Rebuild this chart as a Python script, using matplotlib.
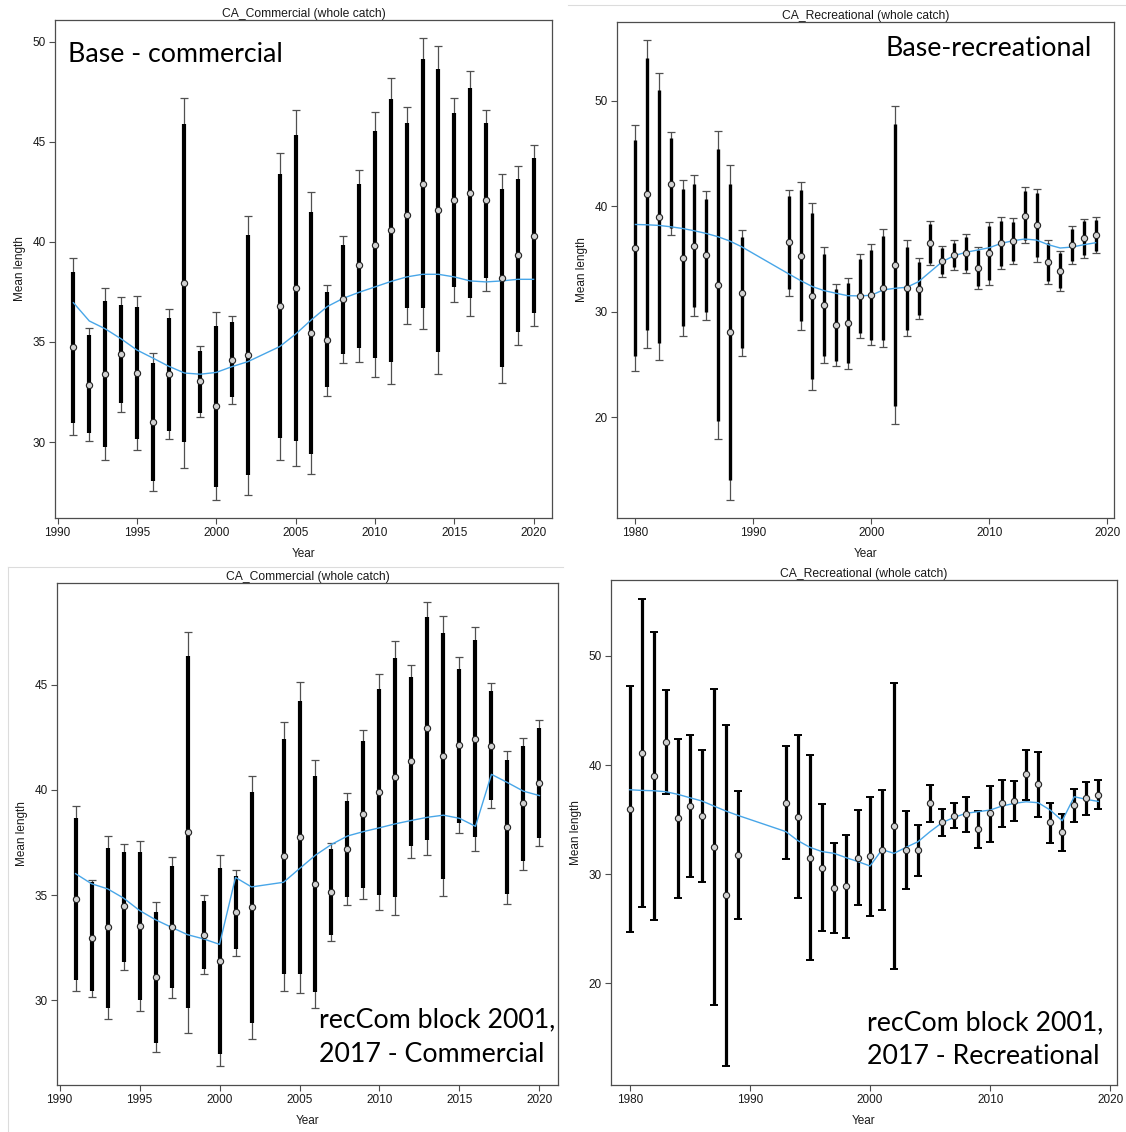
"""
Mean length fits, CA commercial and recreational fleets, base vs recCom block model.
"""

import numpy as np
import matplotlib.pyplot as plt
from matplotlib.lines import Line2D

plt.rcParams["font.family"] = ["Liberation Sans", "DejaVu Sans"]

# ---- Base model, commercial ----
com_years = [1991, 1992, 1993, 1994, 1995, 1996, 1997, 1998, 1999, 2000, 2001, 2002,
             2004, 2005, 2006, 2007, 2008, 2009, 2010, 2011, 2012, 2013, 2014, 2015,
             2016, 2017, 2018, 2019, 2020]
bc_mean = [34.77, 32.86, 33.39, 34.39, 33.46, 31.0, 33.39, 37.93, 33.04, 31.8, 34.11, 34.36,
           36.79, 37.7, 35.46, 35.11, 37.13, 38.82, 39.86, 40.57, 41.32, 42.91, 41.57, 42.09,
           42.43, 42.09, 38.18, 39.32, 40.3]
bc_thick_hi = [38.52, 35.36, 37.04, 36.86, 36.77, 33.93, 36.18, 45.89, 34.55, 35.8, 35.98, 40.36,
               43.38, 45.34, 41.5, 37.48, 39.86, 42.91, 45.54, 47.12, 45.96, 49.13, 48.64, 46.45,
               47.68, 45.96, 42.66, 43.13, 44.2]
bc_thick_lo = [30.96, 30.45, 29.75, 31.93, 30.16, 28.07, 30.57, 30.0, 31.46, 27.77, 32.27, 28.34,
               30.2, 30.05, 29.43, 32.75, 34.41, 34.71, 34.18, 33.98, 36.68, 36.7, 34.52, 37.73,
               37.18, 38.18, 33.73, 35.5, 36.43]
bc_cap_hi = [39.18, 35.68, 37.68, 37.25, 37.29, 34.45, 36.66, 47.18, 34.82, 36.48, 36.3, 41.3,
             44.46, 46.59, 42.48, 37.86, 40.29, 43.57, 46.48, 48.2, 46.73, 50.16, 49.77, 47.18,
             48.52, 46.61, 43.39, 43.77, 44.84]
bc_cap_lo = [30.36, 30.04, 29.11, 31.5, 29.59, 27.55, 30.13, 28.71, 31.23, 27.13, 31.89, 27.38,
             29.09, 28.8, 28.43, 32.32, 33.96, 34.02, 33.25, 32.91, 35.89, 35.66, 33.38, 37.0,
             36.29, 37.54, 32.96, 34.86, 35.79]
bc_exp = [36.96, 36.05, 35.66, 35.16, 34.6, 34.2, 33.79, 33.45, 33.39, 33.48, 33.77, 34.02,
          34.77, 35.39, 36.11, 36.77, 37.18, 37.48, 37.75, 38.02, 38.25, 38.38, 38.38, 38.25,
          38.05, 38.0, 38.05, 38.13, 38.13]

# ---- recCom block 2001/2017, commercial ----
kc_mean = [34.82, 32.94, 33.47, 34.46, 33.54, 31.1, 33.48, 37.99, 33.12, 31.89, 34.19, 34.43,
           36.85, 37.78, 35.54, 35.17, 37.17, 38.84, 39.9, 40.61, 41.36, 42.92, 41.62, 42.12,
           42.44, 42.1, 38.22, 39.37, 40.35]
kc_thick_hi = [38.65, 35.61, 37.24, 37.07, 37.04, 34.21, 36.4, 46.36, 34.72, 36.3, 35.92, 39.9,
               42.43, 44.23, 40.68, 37.19, 39.47, 42.34, 44.79, 46.29, 45.36, 48.21, 47.45, 45.77,
               47.11, 44.68, 41.4, 42.08, 42.96]
kc_thick_lo = [30.98, 30.46, 29.64, 31.84, 30.0, 27.98, 30.58, 29.64, 31.49, 27.46, 32.44, 28.92,
               31.24, 31.24, 30.38, 33.12, 34.89, 35.32, 35.01, 34.89, 37.33, 37.64, 35.78, 38.44,
               37.78, 39.53, 35.05, 36.64, 37.71]
kc_cap_hi = [39.22, 35.73, 37.83, 37.43, 37.55, 34.69, 36.8, 47.52, 35.0, 36.92, 36.2, 40.68,
             43.22, 45.15, 41.41, 37.5, 39.83, 42.85, 45.53, 47.08, 45.93, 48.95, 48.26, 46.3,
             47.76, 45.09, 41.86, 42.48, 43.34]
kc_cap_lo = [30.43, 30.14, 29.11, 31.46, 29.49, 27.53, 30.1, 28.47, 31.24, 26.86, 32.13, 28.15,
             30.46, 30.34, 29.64, 32.82, 34.55, 34.82, 34.27, 34.07, 36.75, 36.9, 34.96, 37.93,
             37.12, 39.13, 34.58, 36.21, 37.33]
kc_exp = [36.02, 35.54, 35.3, 34.86, 34.27, 33.83, 33.47, 33.12, 32.92, 32.66, 35.84, 35.39,
          35.61, 36.26, 36.9, 37.41, 37.81, 38.02, 38.2, 38.39, 38.55, 38.7, 38.8, 38.65,
          38.27, 40.74, 40.35, 39.94, 39.73]

# ---- Base model, recreational ----
rec_years = [1980, 1981, 1982, 1983, 1984, 1985, 1986, 1987, 1988, 1989,
             1993, 1994, 1995, 1996, 1997, 1998, 1999, 2000, 2001, 2002, 2003, 2004, 2005,
             2006, 2007, 2008, 2009, 2010, 2011, 2012, 2013, 2014, 2015, 2016, 2017, 2018, 2019]
br_mean = [36.02, 41.15, 39.0, 42.13, 35.1, 36.24, 35.35, 32.52, 28.05, 31.8,
           36.55, 35.26, 31.48, 30.6, 28.74, 28.9, 31.51, 31.61, 32.24, 34.41, 32.24, 32.17, 36.49,
           34.79, 35.39, 35.54, 34.13, 35.57, 36.52, 36.71, 39.1, 38.22, 34.69, 33.87, 36.33, 36.96, 37.24]
br_thick_hi = [46.28, 54.0, 51.0, 46.47, 41.65, 42.13, 40.71, 45.43, 42.06, 37.02,
               40.96, 41.5, 39.35, 35.45, 32.11, 32.68, 35.0, 35.83, 37.15, 47.73, 36.14, 34.72, 38.28,
               35.98, 36.52, 37.06, 35.83, 38.09, 38.6, 38.5, 41.43, 41.24, 36.52, 35.5, 37.81, 38.54, 38.69]
br_thick_lo = [25.75, 28.27, 27.0, 37.87, 28.58, 30.41, 29.97, 19.64, 14.0, 26.5,
               32.11, 29.06, 23.61, 25.75, 25.28, 25.12, 27.95, 27.32, 27.26, 21.09, 28.27, 29.69, 34.63,
               33.56, 34.25, 33.94, 32.43, 32.99, 34.31, 34.82, 36.77, 35.13, 32.87, 32.2, 34.82, 35.39, 35.76]
br_cap_hi = [47.64, 55.7, 52.58, 47.04, 42.5, 42.91, 41.43, 47.13, 43.89, 37.69,
             41.56, 42.28, 40.33, 36.11, 32.58, 33.21, 35.45, 36.43, 37.81, 49.5, 36.74, 35.1, 38.57,
             36.24, 36.74, 37.34, 36.11, 38.5, 38.94, 38.85, 41.81, 41.62, 36.77, 35.76, 38.13, 38.79, 38.94]
br_cap_lo = [24.39, 26.54, 25.4, 37.21, 27.64, 29.59, 29.24, 17.94, 12.17, 25.81,
             31.51, 28.24, 22.6, 25.12, 24.8, 24.55, 27.48, 26.82, 26.6, 19.32, 27.7, 29.27, 34.38,
             33.24, 33.97, 33.62, 32.11, 32.52, 34.0, 34.5, 36.46, 34.69, 32.58, 31.95, 34.5, 35.1, 35.51]
br_exp = [38.25, 38.22, 38.16, 38.03, 37.87, 37.65, 37.4, 37.09, 36.68, 36.14,
          33.56, 32.93, 32.36, 31.98, 31.73, 31.5, 31.48, 31.54, 32.05, 32.2, 32.3, 32.83, 33.78,
          34.72, 35.29, 35.61, 35.83, 36.05, 36.46, 36.71, 36.87, 36.77, 36.33, 36.02, 36.11, 36.33, 36.52]

# ---- recCom block 2001/2017, recreational ----
kr_mean = [35.99, 41.12, 39.01, 42.1, 35.11, 36.24, 35.35, 32.51, 28.06, 31.75,
           36.54, 35.26, 31.48, 30.59, 28.7, 28.88, 31.51, 31.63, 32.24, 34.44, 32.21, 32.21, 36.48,
           34.77, 35.35, 35.47, 34.13, 35.57, 36.51, 36.66, 39.14, 38.25, 34.74, 33.86, 36.36, 36.97, 37.24]
kr_cap_hi = [47.28, 55.25, 52.17, 46.92, 42.34, 42.74, 41.36, 47.01, 43.65, 37.58,
             41.73, 42.71, 40.91, 36.39, 32.82, 33.61, 35.84, 37.03, 37.67, 47.53, 35.81, 34.5, 38.19,
             35.99, 36.51, 37.06, 35.81, 38.04, 38.59, 38.53, 41.36, 41.15, 36.54, 35.5, 37.82, 38.43, 38.59]
kr_cap_lo = [24.73, 27.02, 25.8, 37.34, 27.78, 29.71, 29.28, 18.02, 12.37, 25.92,
             31.35, 27.82, 22.08, 24.76, 24.58, 24.12, 27.2, 26.17, 26.72, 21.32, 28.61, 29.86, 34.74,
             33.49, 34.19, 33.86, 32.42, 32.97, 34.31, 34.83, 36.79, 35.23, 32.82, 32.15, 34.8, 35.44, 35.93]
kr_exp = [37.73, 37.67, 37.64, 37.55, 37.31, 37.0, 36.7, 36.24, 35.78, 35.38,
          33.89, 33.06, 32.45, 32.06, 31.9, 31.51, 31.14, 30.74, 32.24, 31.9, 32.45, 32.97, 33.89,
          34.71, 35.2, 35.57, 35.72, 35.87, 36.24, 36.48, 36.63, 36.54, 35.87, 34.89, 37.09, 36.85, 36.66]

FRAME = "#4d4d4d"
BLUE = "#48a6e8"


def r_range(lo, hi):
    # R-style axis range: data range widened by 4% each side
    pad = 0.04 * (hi - lo)
    return lo - pad, hi + pad


def draw_panel(ax, years, mean, cap_lo, cap_hi, exp, thick_lo=None, thick_hi=None,
               title="", xticks=None, yticks=None, bar_lw=3.0, cap=2.8):
    years = np.array(years, dtype=float)
    mean = np.array(mean)
    cap_lo = np.array(cap_lo)
    cap_hi = np.array(cap_hi)

    if thick_lo is not None:
        ax.errorbar(years, mean, yerr=[mean - cap_lo, cap_hi - mean], fmt="none",
                    ecolor="#505050", elinewidth=0.9, capsize=cap, capthick=0.9, zorder=2)
        ax.vlines(years, thick_lo, thick_hi, color="black", lw=bar_lw, zorder=3)
    else:
        ax.errorbar(years, mean, yerr=[mean - cap_lo, cap_hi - mean], fmt="none",
                    ecolor="black", elinewidth=bar_lw, capsize=cap, capthick=1.4, zorder=2)

    ax.plot(years, exp, color=BLUE, lw=1.0, zorder=4)
    ax.plot(years, mean, "o", ms=4.5, mfc="#d2d2d2", mec="#222222", mew=0.8, zorder=5)

    ax.set_xlim(*r_range(years.min(), years.max()))
    ax.set_ylim(*r_range(cap_lo.min(), cap_hi.max()))
    ax.set_xticks(xticks)
    ax.set_yticks(yticks)
    ax.tick_params(direction="out", length=4, width=0.8, color=FRAME,
                   labelsize=8.5, pad=2.5, labelcolor="#1a1a1a")
    for sp in ax.spines.values():
        sp.set_color(FRAME)
        sp.set_linewidth(0.9)

    ax.set_title(title, fontsize=8.7, pad=1, color="#1a1a1a")
    ax.set_xlabel("Year", fontsize=8.5, color="#1a1a1a")
    ax.set_ylabel("Mean length", fontsize=8.5, color="#1a1a1a")
    ax.xaxis.set_label_coords(0.5, -0.06)
    ax.yaxis.set_label_coords(-0.058, 0.5)


W, H = 1126, 1132
fig = plt.figure(figsize=(W / 100, H / 100), dpi=100)


def px_axes(left, top, right, bottom):
    return fig.add_axes([left / W, 1 - bottom / H, (right - left) / W, (bottom - top) / H])


com_xt = [1990, 1995, 2000, 2005, 2010, 2015, 2020]
rec_xt = [1980, 1990, 2000, 2010, 2020]

ax1 = px_axes(55, 20, 552, 518)
draw_panel(ax1, com_years, bc_mean, bc_cap_lo, bc_cap_hi, bc_exp, bc_thick_lo, bc_thick_hi,
           title="CA_Commercial (whole catch)", xticks=com_xt, yticks=[30, 35, 40, 45, 50],
           bar_lw=3.0, cap=3.0)

ax2 = px_axes(617, 22, 1114, 518)
draw_panel(ax2, rec_years, br_mean, br_cap_lo, br_cap_hi, br_exp, br_thick_lo, br_thick_hi,
           title="CA_Recreational (whole catch)", xticks=rec_xt, yticks=[20, 30, 40, 50],
           bar_lw=2.4, cap=2.6)

ax3 = px_axes(57, 583, 558, 1085)
draw_panel(ax3, com_years, kc_mean, kc_cap_lo, kc_cap_hi, kc_exp, kc_thick_lo, kc_thick_hi,
           title="CA_Commercial (whole catch)", xticks=com_xt, yticks=[30, 35, 40, 45],
           bar_lw=3.0, cap=3.0)

ax4 = px_axes(611, 580, 1117, 1085)
draw_panel(ax4, rec_years, kr_mean, kr_cap_lo, kr_cap_hi, kr_exp,
           title="CA_Recreational (whole catch)", xticks=rec_xt, yticks=[20, 30, 40, 50],
           bar_lw=2.3, cap=2.7)

# panel annotations
note = dict(family=["Lato", "DejaVu Sans"], color="black", fontsize=19.3)
fig.text(68 / W, 1 - 54 / H, "Base - commercial", ha="left", va="center", **note)
fig.text(1092 / W, 1 - 48 / H, "Base-recreational", ha="right", va="center", **note)
fig.text(319 / W, 1 - 1037 / H, "recCom block 2001,\n2017 - Commercial", ha="left",
         va="center", linespacing=1.45, **note)
fig.text(867 / W, 1 - 1040 / H, "recCom block 2001,\n2017 - Recreational", ha="left",
         va="center", linespacing=1.45, **note)

# faint borders of the pasted screenshots
edge = "#dcdcdc"
fig.add_artist(Line2D([568 / W, 1.0], [1 - 5 / H, 1 - 5 / H], color=edge, lw=0.8))
fig.add_artist(Line2D([8 / W, 563 / W], [1 - 567 / H, 1 - 567 / H], color=edge, lw=0.8))
fig.add_artist(Line2D([8 / W, 8 / W], [0.0, 1 - 567 / H], color=edge, lw=0.8))

fig.savefig("out.png", dpi=100, facecolor="white")
